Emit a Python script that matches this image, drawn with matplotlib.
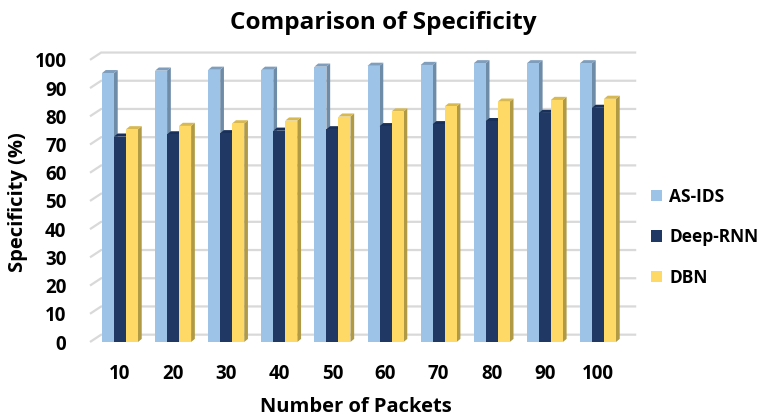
import matplotlib
matplotlib.use("Agg")
import matplotlib.pyplot as plt
from matplotlib.patches import Polygon, Patch

plt.rcParams["font.family"] = ["Open Sans", "DejaVu Sans"]
plt.rcParams["font.weight"] = "bold"

packets = ["10", "20", "30", "40", "50", "60", "70", "80", "90", "100"]
as_ids = [95.3, 96.2, 96.5, 96.5, 97.6, 97.9, 98.2, 98.8, 98.8, 98.8]
deep_rnn = [72.8, 73.6, 74.0, 74.9, 75.4, 76.5, 77.2, 78.3, 81.2, 83.0]
dbn = [75.4, 76.6, 77.5, 78.5, 79.9, 81.7, 83.5, 85.2, 85.8, 86.2]

series = [
    ("AS-IDS", as_ids, "#9DC3E6", "#6E8BA8", "#7F9DBC"),
    ("Deep-RNN", deep_rnn, "#1F3864", "#14264A", "#18305A"),
    ("DBN", dbn, "#FFD966", "#B09A45", "#D8B850"),
]

fig = plt.figure(figsize=(7.66, 4.19), dpi=100)
ax = fig.add_axes([90 / 766, 77 / 419, 538 / 766, 292 / 419])
xmin, xmax = -0.565, 9.565
ax.set_xlim(xmin, xmax)
ax.set_ylim(0, 103.5)

# back wall gridlines with a slanted left edge
gdx, gdy = 0.21, 2.6
for v in range(0, 101, 10):
    ax.plot([xmin, xmin + gdx, 9.72], [v, v + gdy, v + gdy], color="#D9D9D9",
            lw=1.6, clip_on=False, zorder=1, solid_capstyle="butt")

# pseudo-3D bars
w = 0.226
ddx, ddy = 0.07, 1.1
z = 2
for i in range(len(packets)):
    for k, (name, vals, front, side, top) in enumerate(series):
        x0 = i + (k - 1) * w - w / 2
        x1 = x0 + w
        h = vals[i]
        ax.add_patch(Polygon([[x1, 0], [x1 + ddx, ddy], [x1 + ddx, h + ddy], [x1, h]],
                             closed=True, facecolor=side, edgecolor="none", zorder=z))
        ax.add_patch(Polygon([[x0, h], [x1, h], [x1 + ddx, h + ddy], [x0 + ddx, h + ddy]],
                             closed=True, facecolor=top, edgecolor="none", zorder=z))
        ax.bar(x0, h, width=w, align="edge", color=front, zorder=z + 1)
        z += 2

for s in ax.spines.values():
    s.set_visible(False)
ax.set_yticks(range(0, 101, 10))
ax.set_xticks(range(len(packets)))
ax.set_xticklabels(packets)
ax.tick_params(axis="y", length=0, pad=17, labelsize=13.5)
ax.tick_params(axis="x", length=0, pad=16, labelsize=13.5)
for lab in ax.get_xticklabels() + ax.get_yticklabels():
    lab.set_fontweight("bold")

ax.set_ylabel("Specificity (%)", fontsize=14.5, fontweight="bold")
ax.yaxis.set_label_coords(-0.115, 0.479)
ax.set_xlabel("Number of Packets", fontsize=14.5, fontweight="bold")
ax.xaxis.set_label_coords(0.495, -0.19)
fig.suptitle("Comparison of Specificity", fontsize=17.5, fontweight="bold",
             y=1 - 23 / 419, va="center")

handles = [Patch(facecolor=s[2], label=s[0]) for s in series]
leg = fig.legend(handles=handles, loc="center left", bbox_to_anchor=(651 / 766, 0.434),
                 frameon=False, prop={"weight": "bold", "size": 12.5},
                 handlelength=0.65, handleheight=0.65, handletextpad=0.4, labelspacing=1.3,
                 borderaxespad=0, borderpad=0)

fig.savefig("out.png", dpi=100)
